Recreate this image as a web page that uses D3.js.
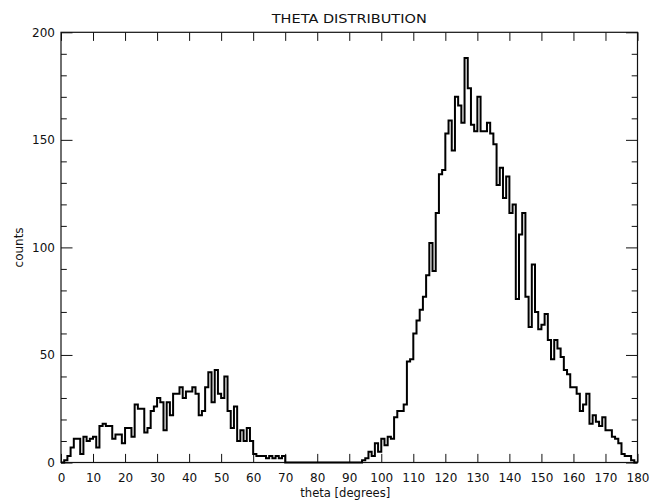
<!DOCTYPE html>
<html>
<head>
<meta charset="utf-8">
<script src="https://cdn.jsdelivr.net/npm/d3@7"></script>
<style>
body { margin: 0; background: #fff; }
svg { display: block; }
text { font-family: "DejaVu Sans", sans-serif; fill: #111; }
.axis text { font-size: 12px; }
.axis line { stroke: #111; stroke-width: 1; }
</style>
</head>
<body>
<div id="chart"></div>
<script>
(function(d3) {
'use strict';

// counts per 1-degree bin, theta = 0..179
var counts = [
	0, 1, 3, 7, 11, 11, 4, 12, 10, 11,
	12, 7, 17, 18, 17, 17, 11, 13, 13, 9,
	16, 16, 12, 27, 25, 25, 14, 16, 24, 26,
	30, 28, 15, 28, 22, 32, 32, 35, 30, 33,
	33, 35, 32, 22, 24, 35, 42, 28, 43, 32,
	30, 40, 24, 16, 26, 10, 15, 10, 16, 10,
	4, 3, 3, 3, 2, 3, 2, 3, 2, 3,
	0, 0, 0, 0, 0, 0, 0, 0, 0, 0,
	0, 0, 0, 0, 0, 0, 0, 0, 0, 0,
	0, 0, 0, 0, 1, 2, 5, 3, 9, 5,
	11, 8, 12, 11, 21, 24, 24, 27, 47, 48,
	60, 66, 71, 77, 87, 102, 89, 116, 134, 136,
	153, 159, 145, 170, 166, 158, 188, 174, 157, 154,
	170, 154, 154, 158, 153, 148, 129, 137, 123, 133,
	116, 120, 76, 106, 116, 77, 63, 92, 70, 62,
	64, 69, 57, 48, 57, 53, 49, 43, 41, 35,
	35, 32, 24, 27, 32, 18, 22, 19, 17, 21,
	15, 15, 12, 11, 9, 4, 3, 3, 1, 0
];
var binWidth = 1;

var xTicks = [0, 10, 20, 30, 40, 50, 60, 70, 80, 90, 100, 110, 120, 130, 140, 150, 160, 170, 180];
var yTicks = [0, 50, 100, 150, 200];
var yMinorTicks = [10, 20, 30, 40, 60, 70, 80, 90, 110, 120, 130, 140, 160, 170, 180, 190];

var title = 'THETA DISTRIBUTION';
var xLabel = 'theta [degrees]';
var yLabel = 'counts';

var margin = {left: 61, right: 12.5, top: 32.3, bottom: 38.5};
var width = 650 - margin.left - margin.right;
var height = 501 - margin.top - margin.bottom;

var x = d3.scaleLinear()
	.domain([0, 180])
	.range([0, width]);

var y = d3.scaleLinear()
	.domain([0, 200])
	.range([height, 0]);

var svg = d3.select('#chart')
	.append('svg')
	.attr('width', 650)
	.attr('height', 501);

var g = svg.append('g')
	.attr('transform', 'translate(' + margin.left + ',' + margin.top + ')');

// ticks point inward on all four sides, like the IDL plot
g.append('g')
	.attr('class', 'axis')
	.attr('transform', 'translate(0,' + height + ')')
	.call(d3.axisBottom(x).tickValues(xTicks).tickFormat(d3.format('d'))
		.tickSizeInner(-8.6).tickSizeOuter(0).tickPadding(11));

g.append('g')
	.attr('class', 'axis')
	.call(d3.axisTop(x).tickValues(xTicks).tickFormat('')
		.tickSizeInner(-8.6).tickSizeOuter(0));

g.append('g')
	.attr('class', 'axis')
	.call(d3.axisLeft(y).tickValues(yTicks).tickFormat(d3.format('d'))
		.tickSizeInner(-11.5).tickSizeOuter(0).tickPadding(6));

g.append('g')
	.attr('class', 'axis')
	.call(d3.axisLeft(y).tickValues(yMinorTicks).tickFormat('')
		.tickSizeInner(-5.8).tickSizeOuter(0));

g.append('g')
	.attr('class', 'axis')
	.attr('transform', 'translate(' + width + ',0)')
	.call(d3.axisRight(y).tickValues(yTicks).tickFormat('')
		.tickSizeInner(-11.5).tickSizeOuter(0));

g.append('g')
	.attr('class', 'axis')
	.attr('transform', 'translate(' + width + ',0)')
	.call(d3.axisRight(y).tickValues(yMinorTicks).tickFormat('')
		.tickSizeInner(-5.8).tickSizeOuter(0));

g.selectAll('.axis .domain').remove();

g.append('rect')
	.attr('x', 0)
	.attr('y', 0)
	.attr('width', width)
	.attr('height', height)
	.attr('fill', 'none')
	.attr('stroke', '#111')
	.attr('stroke-width', 1.2);

// histogram as a step line, last bin closed at its right edge
var steps = counts.map(function(c, i) { return {x: i * binWidth, c: c}; });
steps.push({x: counts.length * binWidth, c: counts[counts.length - 1]});

var line = d3.line()
	.x(function(d) { return x(d.x); })
	.y(function(d) { return y(d.c); })
	.curve(d3.curveStepAfter);

g.append('path')
	.datum(steps)
	.attr('d', line)
	.attr('fill', 'none')
	.attr('stroke', '#000')
	.attr('stroke-width', 2)
	.attr('stroke-linejoin', 'miter');

svg.append('text')
	.attr('x', margin.left + width / 2)
	.attr('y', 23)
	.attr('text-anchor', 'middle')
	.attr('font-size', 13)
	.attr('textLength', 155)
	.attr('lengthAdjust', 'spacingAndGlyphs')
	.text(title);

svg.append('text')
	.attr('x', margin.left + width / 2 - 4)
	.attr('y', 497)
	.attr('text-anchor', 'middle')
	.attr('font-size', 12)
	.attr('textLength', 90)
	.attr('lengthAdjust', 'spacingAndGlyphs')
	.text(xLabel);

svg.append('text')
	.attr('transform', 'translate(23,' + (margin.top + height / 2) + ') rotate(-90)')
	.attr('text-anchor', 'middle')
	.attr('font-size', 12)
	.attr('textLength', 40)
	.attr('lengthAdjust', 'spacingAndGlyphs')
	.text(yLabel);

})(window.d3);
</script>
</body>
</html>
